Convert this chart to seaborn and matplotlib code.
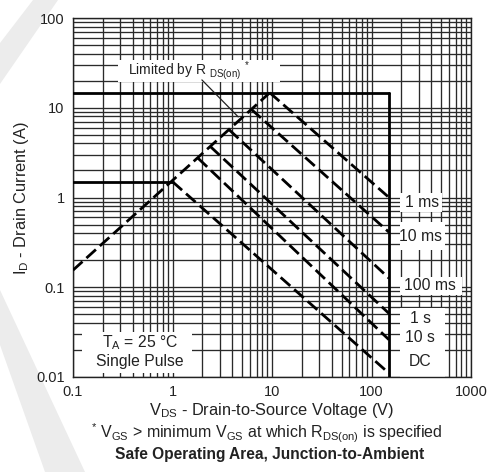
import matplotlib
matplotlib.use("Agg")
import matplotlib.pyplot as plt
import matplotlib.ticker as mticker
from matplotlib.patches import Rectangle, Polygon
import numpy as np
import pandas as pd
import seaborn as sns

# ---- data -------------------------------------------------------------
# R_DS(on) limit (rising dashed line)
rds_v = [0.1, 9.5]
rds_i = [0.155, 14.7]

# package / breakdown limits (solid)
idm_v = [0.1, 150]
idm_i = [14.7, 14.7]
vds_v = [150, 150]
vds_i = [14.7, 0.01]
id_v = [0.1, 1.0]
id_i = [1.47, 1.47]

# pulse-width power limits (falling dashed lines)
pulse_names = ["1 ms", "10 ms", "100 ms", "1 s", "10 s", "DC"]
pulse_v_start = [9.5, 6.2, 3.7, 2.4, 1.8, 1.0]
pulse_i_start = [14.7, 9.6, 5.7, 3.7, 2.75, 1.5]
pulse_v_end = [150, 150, 150, 150, 150, 150]
pulse_i_end = [1.0, 0.41, 0.126, 0.051, 0.026, 0.011]

x_ticks = [0.1, 1, 10, 100, 1000]
x_tick_labels = ["0.1", "1", "10", "100", "1000"]
y_ticks = [0.01, 0.1, 1, 10, 100]
y_tick_labels = ["0.01", "0.1", "1", "10", "100"]

# ---- style ------------------------------------------------------------
sns.set_theme(style="white")
plt.rcParams["font.family"] = ["Liberation Sans", "DejaVu Sans"]
plt.rcParams["mathtext.fontset"] = "custom"
plt.rcParams["mathtext.rm"] = "Liberation Sans"
plt.rcParams["mathtext.it"] = "Liberation Sans:italic"
plt.rcParams["mathtext.bf"] = "Liberation Sans:bold"

W, H = 488, 472
INK = "#222222"
fig = plt.figure(figsize=(W / 100, H / 100), dpi=100)
fig.patch.set_facecolor("white")

# faint background mark
wm_color = "#ececec"
for pts in ([(0, 43), (33, 0), (58, 0), (0, 84)],
            [(0, 290), (0, 345), (45, 472), (85, 472)]):
    fig.patches.append(Polygon([(x / W, 1 - y / H) for x, y in pts],
                               closed=True, transform=fig.transFigure,
                               facecolor=wm_color, edgecolor="none", zorder=-1))

ax = fig.add_axes([73 / W, 1 - 377 / H, 398 / W, 359 / H])
ax.set_facecolor("none")
ax.set_xscale("log")
ax.set_yscale("log")
ax.set_xlim(0.1, 1000)
ax.set_ylim(0.01, 100)

# grid
ax.set_axisbelow(True)
ax.grid(which="both", color="#2a2a2a", linewidth=0.95)
ax.xaxis.set_minor_locator(mticker.LogLocator(base=10, subs=np.arange(2, 10)))
ax.yaxis.set_minor_locator(mticker.LogLocator(base=10, subs=np.arange(2, 10)))
ax.set_xticks(x_ticks)
ax.set_xticklabels(x_tick_labels)
ax.set_yticks(y_ticks)
ax.set_yticklabels(y_tick_labels)
ax.xaxis.set_minor_formatter(mticker.NullFormatter())
ax.yaxis.set_minor_formatter(mticker.NullFormatter())
ax.tick_params(which="both", length=0, labelsize=10.5, colors=INK)
ax.tick_params(axis="x", pad=6)
ax.tick_params(axis="y", pad=6)
for s in ax.spines.values():
    s.set_color(INK)
    s.set_linewidth(1.0)

# white boxes behind the annotation labels
def white_box(x0, y0, x1, y1):
    ax.add_patch(Rectangle((x0, y0), x1 - x0, y1 - y0, transform=ax.transAxes,
                           facecolor="white", edgecolor="none", zorder=1))

white_box(0.113, 0.822, 0.520, 0.883)   # R_DS(on) label
white_box(0.023, 0.011, 0.299, 0.125)   # conditions
white_box(0.822, 0.460, 0.927, 0.513)   # 1 ms
white_box(0.822, 0.354, 0.935, 0.432)   # 10 ms
white_box(0.822, 0.228, 0.977, 0.279)   # 100 ms
white_box(0.822, 0.000, 0.935, 0.192)   # 1 s / 10 s / DC

# ---- curves -------------------------------------------------------------
dash = (0, (4.6, 1.9))
lw = 2.0

for xs, ys in ((idm_v, idm_i), (vds_v, vds_i), (id_v, id_i)):
    sns.lineplot(x=xs, y=ys, ax=ax, color="black", linewidth=lw,
                 sort=False, estimator=None, zorder=3)

sns.lineplot(x=rds_v, y=rds_i, ax=ax, color="black", linewidth=lw,
             linestyle=dash, sort=False, estimator=None, zorder=3)

pulse_df = pd.DataFrame({
    "V": pulse_v_start + pulse_v_end,
    "I": pulse_i_start + pulse_i_end,
    "t": pulse_names + pulse_names,
})
for name in pulse_names:
    d = pulse_df[pulse_df["t"] == name]
    sns.lineplot(data=d, x="V", y="I", ax=ax, color="black", linewidth=lw,
                 linestyle=dash, sort=True, estimator=None, zorder=3)

ax.set_xlabel("")
ax.set_ylabel("")

# ---- annotations --------------------------------------------------------
txt_kw = dict(transform=ax.transAxes, fontsize=11.3, color=INK, zorder=4,
              ha="center", va="center")
ax.text(0.877, 0.487, "1 ms", **txt_kw)
ax.text(0.874, 0.390, "10 ms", **txt_kw)
ax.text(0.897, 0.256, "100 ms", **txt_kw)
ax.text(0.872, 0.164, "1 s", **txt_kw)
ax.text(0.872, 0.111, "10 s", **txt_kw)
ax.text(0.872, 0.042, "DC", **txt_kw)

ax.text(0.168, 0.097, r"T$_{\mathregular{A}}$ = 25 °C", **txt_kw)
ax.text(0.168, 0.043, "Single Pulse", **txt_kw)

ax.text(0.138, 0.855, r"Limited by R $_{\mathregular{DS(on)}}$ $^{*}$",
        transform=ax.transAxes, fontsize=10, color=INK, zorder=4,
        ha="left", va="center")
ax.annotate("", xy=(0.420, 0.719), xytext=(0.319, 0.833),
            xycoords="axes fraction", textcoords="axes fraction",
            arrowprops=dict(arrowstyle="-", color=INK, lw=0.9), zorder=4)

# ---- labels -------------------------------------------------------------
fig.text(0.045, 0.58, r"I$_{\mathregular{D}}$ - Drain Current (A)", rotation=90,
         ha="center", va="center", fontsize=11.8, color=INK)
fig.text(0.557, 1 - 410 / H, r"V$_{\mathregular{DS}}$ - Drain-to-Source Voltage (V)",
         ha="center", va="center", fontsize=11.8, color=INK)
fig.text(0.547, 1 - 433 / H,
         r"$^{*}$ V$_{\mathregular{GS}}$ > minimum V$_{\mathregular{GS}}$ at which "
         r"R$_{\mathregular{DS(on)}}$ is specified",
         ha="center", va="center", fontsize=11.5, color=INK)
fig.text(0.553, 1 - 454 / H, "Safe Operating Area, Junction-to-Ambient",
         ha="center", va="center", fontsize=11.2, fontweight="bold", color=INK)

fig.savefig("out.png", dpi=100, facecolor="white")
